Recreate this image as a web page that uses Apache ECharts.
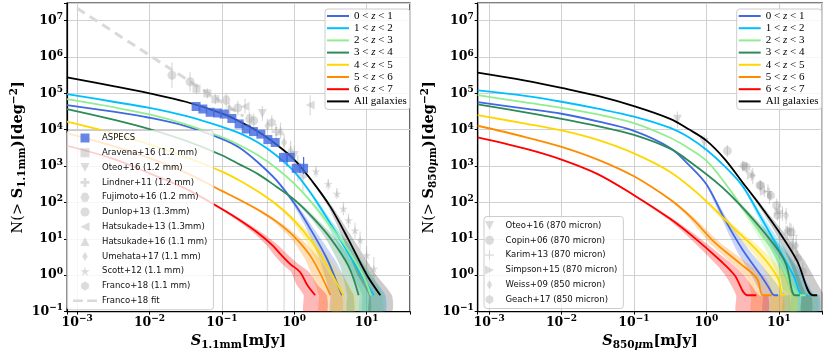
<!DOCTYPE html>
<html>
<head>
<meta charset="utf-8">
<script src="https://cdn.jsdelivr.net/npm/echarts@6.0.0/dist/echarts.min.js"></script>
<style>
html,body{margin:0;padding:0;background:#fff;}
#chart{width:830px;height:356px;}
</style>
</head>
<body>
<div id="chart"></div>
<script>

/* =================================
   data (log10 S [mJy], log10 N [deg^-2])
================================= */

const zNames=["0 < z < 1","1 < z < 2","2 < z < 3","3 < z < 4","4 < z < 5","5 < z < 6","6 < z < 7","All galaxies"];

// left panel, 1.1 mm
const L_z0=[[-3.14,4.68],[-2.5,4.5],[-2,4.33],[-1.5,4.1],[-1,3.75],[-0.75,3.5],[-0.5,3.1],[-0.25,2.62],[0,1.98],[0.2,1.35],[0.45,0.46],[0.64,-0.45],[0.66,-0.55]];
const L_z1=[[-3.14,4.98],[-2.5,4.77],[-2,4.6],[-1.5,4.38],[-1,4.08],[-0.75,3.9],[-0.5,3.65],[-0.25,3.3],[0,2.85],[0.25,2.2],[0.5,1.42],[0.75,0.6],[0.96,-0.1],[1.1,-0.55]];
const L_z2=[[-3.14,4.84],[-2.5,4.62],[-2,4.42],[-1.5,4.15],[-1,3.8],[-0.75,3.57],[-0.5,3.3],[-0.25,2.95],[0,2.52],[0.25,1.98],[0.5,1.35],[0.75,0.68],[0.95,0],[1.06,-0.55]];
const L_z3=[[-3.14,4.57],[-2.5,4.28],[-2,4.02],[-1.5,3.7],[-1,3.3],[-0.75,3.04],[-0.5,2.78],[-0.25,2.44],[0,2.08],[0.25,1.6],[0.5,1.02],[0.75,0.25],[0.89,-0.55]];
const L_z4=[[-3.14,4.22],[-2.5,3.9],[-2,3.6],[-1.5,3.25],[-1,2.85],[-0.75,2.6],[-0.5,2.3],[-0.25,1.95],[0,1.5],[0.25,0.9],[0.45,0.27],[0.68,-0.55]];
const L_z5=[[-3.14,3.91],[-2.5,3.55],[-2,3.22],[-1.5,2.82],[-1,2.32],[-0.75,2.07],[-0.5,1.8],[-0.25,1.48],[0,1.06],[0.25,0.45],[0.5,-0.55]];
const L_z6=[[-3.14,3.56],[-2.5,3.2],[-2,2.8],[-1.5,2.38],[-1,1.82],[-0.75,1.51],[-0.5,1.16],[-0.3,0.82],[-0.19,0.58],[-0.05,0.3],[0.08,0.09],[0.18,-0.27],[0.29,-0.55]];
const L_all=[[-3.14,5.44],[-2.5,5.2],[-2,5.0],[-1.5,4.77],[-1,4.45],[-0.75,4.22],[-0.5,3.95],[-0.25,3.6],[0,3.18],[0.25,2.58],[0.5,1.88],[0.75,0.98],[1.0,0.02],[1.19,-0.55]];

// right panel, 850 micron
const R_z0=[[-3.157,4.76],[-2.5,4.58],[-2,4.44],[-1.5,4.23],[-1,3.97],[-0.5,3.5],[-0.25,3.05],[0,2.5],[0.25,1.55],[0.5,0.7],[0.75,0],[0.85,-0.3],[0.94,-0.55],[0.99,-0.55]];
const R_z1=[[-3.157,5.08],[-2.5,4.93],[-2,4.77],[-1.5,4.58],[-1,4.36],[-0.5,4.05],[-0.25,3.8],[0,3.45],[0.25,3.0],[0.5,2.45],[0.75,1.6],[1.0,0.72],[1.2,0],[1.33,-0.55],[1.4,-0.55]];
const R_z2=[[-3.157,4.95],[-2.5,4.75],[-2,4.6],[-1.5,4.42],[-1,4.18],[-0.5,3.78],[-0.25,3.5],[0,3.15],[0.25,2.55],[0.5,1.85],[0.75,1.15],[1.0,0.42],[1.2,-0.38],[1.3,-0.55],[1.37,-0.55]];
const R_z3=[[-3.157,4.7],[-2.5,4.48],[-2,4.3],[-1.5,4.1],[-1,3.86],[-0.5,3.48],[-0.2,3.08],[0.2,2.45],[0.55,1.75],[0.95,0.8],[1.1,0.3],[1.22,-0.55],[1.29,-0.55]];
const R_z4=[[-3.157,4.4],[-2.5,4.17],[-2,3.98],[-1.5,3.72],[-1,3.35],[-0.5,2.84],[-0.12,2.25],[0.34,1.37],[0.76,0.55],[0.99,-0.09],[1.05,-0.55],[1.09,-0.55]];
const R_z5=[[-3.157,4.11],[-2.5,3.8],[-2,3.53],[-1.5,3.18],[-1,2.72],[-0.5,2.08],[-0.2,1.57],[0.11,0.91],[0.48,0.3],[0.7,-0.1],[0.78,-0.55],[0.9,-0.55]];
const R_z6=[[-3.157,3.79],[-2.5,3.48],[-2,3.18],[-1.5,2.78],[-1,2.2],[-0.5,1.55],[-0.16,1.02],[0.21,0.37],[0.39,0],[0.57,-0.55],[0.69,-0.55]];
const R_all=[[-3.157,5.57],[-2.5,5.35],[-2,5.15],[-1.5,4.93],[-1,4.65],[-0.5,4.3],[-0.25,4.02],[0,3.7],[0.25,3.2],[0.5,2.55],[0.75,1.9],[1.0,1.2],[1.25,0.4],[1.47,-0.55],[1.53,-0.55]];

// band half width (dex in S) against log N
const bandLevel=[2.5,1.5,1.0,0.5,0.0,-0.55];
const bandHalf=[0.01,0.04,0.07,0.1,0.13,0.16];

// observations [logS, logN, lowEnd, highEnd]
const aspecs=[[-1.356,4.64],[-1.263,4.57],[-1.162,4.48],[-1.061,4.46],[-0.968,4.43],[-0.862,4.31],[-0.761,4.16],[-0.664,4.02],[-0.563,3.95],[-0.461,3.88],[-0.364,3.73],[-0.263,3.65],[-0.148,3.24],[-0.055,3.24],[0.028,2.94],[0.129,2.94]];
const aspecsErr=[[-0.1,3.0,3.38],[0.13,2.78,3.25]];
const francoFit=[[-3.0,7.34],[-0.7,4.37]];

const aravena16=[[-1.35,5.13,4.98,5.28],[-1.2,5.0,4.86,5.14],[-1.09,4.84,4.7,4.98]];
const oteo16mm=[[-0.44,4.45,4.25,4.65],[0.0,3.29,3.0,3.55]];
const lindner11=[[-0.9,4.55,4.35,4.75],[-0.25,3.95,3.7,4.15]];
const fujimoto16=[[-0.94,4.82,4.62,5.0],[-0.62,4.3,4.05,4.5]];
const dunlop13=[[-1.69,5.5,5.15,5.85],[-1.44,5.32,5.05,5.58],[-0.78,4.6,4.4,4.8],[-0.56,4.25,4.05,4.45]];
const hatsukade13=[[-0.68,4.64,4.45,4.85],[0.22,4.68,4.4,4.95]];
const hatsukade16=[[-0.19,3.97,3.75,4.2],[-0.05,3.45,3.15,3.7]];
const umehata17=[[-0.37,4.11,-1.5,4.3],[-0.14,3.65,-1.5,3.85]];
const scott12=[[0.30,2.85,2.7,3.0],[0.47,2.51,2.35,2.65],[0.59,2.24,2.1,2.4],[0.68,1.83,1.65,2.0],[0.75,1.51,1.3,1.7],[0.84,1.23,1.0,1.45],[0.91,0.96,0.7,1.2],[1.0,0.55,0.2,0.8],[1.10,0.18,-0.3,0.5]];
const franco18=[[-0.31,4.2,4.0,4.4],[0.05,3.0,2.6,3.3],[0.12,2.75,2.3,3.05]];

const oteo16um=[[-0.40,4.29,4.05,4.5],[-0.03,3.65,3.4,3.85]];
const copin06=[[0.29,3.42,3.25,3.58],[0.55,2.97,2.8,3.12],[0.74,2.47,2.3,2.62],[0.97,1.92,1.72,2.1],[1.17,1.19,0.9,1.42]];
const karim13=[[0.5,3.0,2.85,3.15],[0.85,2.3,2.1,2.5],[1.05,1.7,1.5,1.9],[1.2,1.1,0.8,1.35]];
const simpson15=[[0.62,2.75,2.6,2.9],[0.8,2.3,2.15,2.45],[1.0,1.75,1.55,1.95],[1.15,1.25,1.0,1.45]];
const weiss09=[[0.64,2.74,2.5,2.95],[0.87,2.19,1.95,2.4],[1.1,1.64,1.4,1.85],[1.24,0.82,0.5,1.1]];
const geach17=[[0.52,3.01,2.9,3.12],[0.75,2.47,2.35,2.6],[0.89,2.19,2.05,2.32],[0.98,1.64,1.5,1.8],[1.12,1.19,1.0,1.36],[1.19,0.82,0.6,1.0],[1.26,0.46,0.2,0.7],[1.33,0.1,-0.2,0.35]];


/* =================================
   styles
================================= */

const zColors=["#4169E1","#00BFFF","#90EE90","#2E8B57","#FFD700","#FF8C00","#FF0000","#000000"];
const Y_MIN=-1, Y_MAX=7.485;
const GRAY="rgba(150,150,150,0.42)";
const GRAY_ERR="rgba(150,150,150,0.35)";

const SYM={
square:"path://M0,0L10,0L10,10L0,10Z",
tridown:"path://M0,0L10,0L5,10Z",
trileft:"path://M0,5L10,0L10,10Z",
triright:"path://M0,0L10,5L0,10Z",
triup:"path://M5,0L10,10L0,10Z",
plus:"path://M3.5,0L6.5,0L6.5,3.5L10,3.5L10,6.5L6.5,6.5L6.5,10L3.5,10L3.5,6.5L0,6.5L0,3.5L3.5,3.5Z",
thinplus:"path://M4.4,0L5.6,0L5.6,4.4L10,4.4L10,5.6L5.6,5.6L5.6,10L4.4,10L4.4,5.6L0,5.6L0,4.4L4.4,4.4Z",
star:"path://M5,0L6.18,3.62L10,3.62L6.91,5.86L8.09,9.5L5,7.26L1.91,9.5L3.09,5.86L0,3.62L3.82,3.62Z",
hex:"path://M5,0L9.33,2.5L9.33,7.5L5,10L0.67,7.5L0.67,2.5Z",
hexflat:"path://M2.5,0L7.5,0L10,5L7.5,10L2.5,10L0,5Z",
thindiamond:"path://M5,0L8,5L5,10L2,5Z",
dash:"path://M0,0L9,0L9,2.4L0,2.4Z M13,0L22,0L22,2.4L13,2.4Z"
};

const tickRich={
b:{fontFamily:"DejaVu Serif",fontWeight:"bold",fontSize:12.5,color:"#000"},
s:{fontFamily:"DejaVu Serif",fontWeight:"bold",fontSize:9,color:"#000",padding:[0,0,7,0]}
};

const nameRich={
r:{fontFamily:"DejaVu Serif",fontSize:14.5,color:"#000"},
b:{fontFamily:"DejaVu Serif",fontSize:14.5,fontWeight:"bold",color:"#000"},
bi:{fontFamily:"DejaVu Serif",fontSize:14.5,fontWeight:"bold",fontStyle:"italic",color:"#000"},
sub:{fontFamily:"DejaVu Serif",fontSize:10.5,fontWeight:"bold",color:"#000",padding:[8,0,0,0]},
subi:{fontFamily:"DejaVu Serif",fontSize:10.5,fontStyle:"italic",fontWeight:"bold",color:"#000",padding:[8,0,0,0]},
sup:{fontFamily:"DejaVu Serif",fontSize:10.5,fontWeight:"bold",color:"#000",padding:[0,0,8,0]}
};


/* =================================
   helpers
================================= */

function tickLabel(v){
let r=Math.round(v);
if(Math.abs(v-r)>1e-6) return "";
return "{b|10}{s|"+(r<0?"\u2212"+(-r):r)+"}";
}

function halfWidth(y){
if(y>=bandLevel[0]) return bandHalf[0];
for(let i=1;i<bandLevel.length;i++){
if(y>=bandLevel[i]){
let t=(bandLevel[i-1]-y)/(bandLevel[i-1]-bandLevel[i]);
return bandHalf[i-1]+t*(bandHalf[i]-bandHalf[i-1]);
}
}
return bandHalf[bandHalf.length-1];
}

function bandPolygon(pts){
let end=pts.findIndex(p=>p[1]<=-0.549);
if(end<0) end=pts.length-1;
let upper=pts.map(p=>[p[0]+halfWidth(p[1]),p[1]]);
let lower=pts.slice(0,end+1).map(p=>[p[0]-halfWidth(p[1]),p[1]]).reverse();
return upper
.concat([[upper[upper.length-1][0],Y_MIN],[lower[0][0],Y_MIN]])
.concat(lower);
}

function bandSeries(pts,color,ax){
let poly=bandPolygon(pts);
return {
type:"custom",
xAxisIndex:ax,yAxisIndex:ax,
clip:true,silent:true,z:1,
data:[[pts[0][0],pts[0][1]]],
renderItem:(params,api)=>({
type:"polygon",
shape:{points:poly.map(p=>api.coord(p)),smooth:0.2},
style:{fill:color,opacity:color=="#000000"?0.2:0.28}
})
};
}

function lineSeries(name,pts,color,ax){
return {
type:"line",name:name,
xAxisIndex:ax,yAxisIndex:ax,
data:pts,
symbol:"none",showSymbol:false,
smooth:0.35,
lineStyle:{color:color,width:1.8},
itemStyle:{color:color},
z:3,silent:true,animation:false
};
}

function errSeries(sets,color,ax,z){
let data=[];
sets.forEach(s=>s.forEach(p=>data.push([p[0],p.length>3?p[2]:p[1],p.length>3?p[3]:p[2]])));
return {
type:"custom",
xAxisIndex:ax,yAxisIndex:ax,
clip:true,silent:true,z:z,
encode:{x:0,y:[1,2]},
data:data,
renderItem:(params,api)=>{
let a=api.coord([api.value(0),Math.max(api.value(1),Y_MIN)]);
let b=api.coord([api.value(0),api.value(2)]);
return {type:"line",shape:{x1:a[0],y1:a[1],x2:b[0],y2:b[1]},style:{stroke:color,lineWidth:1.2}};
}
};
}

function pointSeries(name,pts,symbol,size,ax,color){
return {
type:"scatter",name:name,
xAxisIndex:ax,yAxisIndex:ax,
data:pts.map(p=>[p[0],p[1]]),
symbol:symbol,symbolSize:size,symbolKeepAspect:true,
itemStyle:{color:color||GRAY},
z:2,silent:true
};
}

function xAxis(idx,min,name){
return {
type:"value",gridIndex:idx,min:min,max:1.6,
minInterval:1,maxInterval:1,
axisLine:{show:true,onZero:false,lineStyle:{color:"#000",width:1.2}},
axisTick:{show:true,length:3,lineStyle:{color:"#000"}},
axisLabel:{margin:3,formatter:tickLabel,rich:tickRich},
splitLine:{show:true,lineStyle:{color:"#d0d0d0",width:1}},
name:name,nameLocation:"middle",nameGap:18,
nameTextStyle:{rich:nameRich}
};
}

function yAxis(idx,name){
return {
type:"value",gridIndex:idx,min:Y_MIN,max:Y_MAX,
minInterval:1,maxInterval:1,
axisLine:{show:true,onZero:false,lineStyle:{color:"#000",width:1.2}},
axisTick:{show:true,length:3,lineStyle:{color:"#000"}},
axisLabel:{margin:4,formatter:tickLabel,rich:tickRich},
splitLine:{show:true,lineStyle:{color:"#d0d0d0",width:1}},
name:name,nameLocation:"middle",nameGap:34,nameRotate:90,
nameTextStyle:{rich:nameRich}
};
}

function zLegend(left){
return {
orient:"vertical",left:left,top:9,
data:zNames,
icon:"rect",itemWidth:22,itemHeight:2,itemGap:0.2,
padding:[1,3,2,2],
backgroundColor:"rgba(255,255,255,0.8)",
borderColor:"#cccccc",borderWidth:1,borderRadius:3,
selectedMode:false,
formatter:n=>n.replace(" z "," {i|z} "),
textStyle:{fontFamily:"Liberation Serif",fontSize:11,lineHeight:12,color:"#000",
rich:{i:{fontFamily:"Liberation Serif",fontSize:11,fontStyle:"italic",color:"#000"}}}
};
}

function obsLegend(left,top,items,pad,w){
return {
orient:"vertical",left:left,top:top,
data:items,
itemWidth:w,itemHeight:9,itemGap:2.8,
padding:pad,
backgroundColor:"rgba(255,255,255,0.8)",
borderColor:"#cccccc",borderWidth:1,borderRadius:3,
selectedMode:false,
textStyle:{fontFamily:"DejaVu Sans",fontSize:8.5,lineHeight:12,color:"#111"}
};
}


/* =================================
   build chart
================================= */

const leftCurves=[L_z0,L_z1,L_z2,L_z3,L_z4,L_z5,L_z6,L_all];
const rightCurves=[R_z0,R_z1,R_z2,R_z3,R_z4,R_z5,R_z6,R_all];

let series=[];

leftCurves.forEach((c,i)=>series.push(bandSeries(c,zColors[i],0)));
rightCurves.forEach((c,i)=>series.push(bandSeries(c,zColors[i],1)));

series.push(errSeries([aravena16,oteo16mm,lindner11,fujimoto16,dunlop13,hatsukade13,hatsukade16,umehata17,scott12,franco18],GRAY_ERR,0,2));
series.push(errSeries([oteo16um,copin06,karim13,simpson15,weiss09,geach17],GRAY_ERR,1,2));

series.push(pointSeries("Aravena+16 (1.2 mm)",aravena16,SYM.square,8,0));
series.push(pointSeries("Oteo+16 (1.2 mm)",oteo16mm,SYM.tridown,9,0));
series.push(pointSeries("Lindner+11 (1.2 mm)",lindner11,SYM.plus,9,0));
series.push(pointSeries("Fujimoto+16 (1.2 mm)",fujimoto16,SYM.hexflat,9,0));
series.push(pointSeries("Dunlop+13 (1.3mm)",dunlop13,"circle",9,0));
series.push(pointSeries("Hatsukade+13 (1.3mm)",hatsukade13,SYM.trileft,9,0));
series.push(pointSeries("Hatsukade+16 (1.1 mm)",hatsukade16,SYM.triup,9,0));
series.push(pointSeries("Umehata+17 (1.1 mm)",umehata17,SYM.thindiamond,10,0));
series.push(pointSeries("Scott+12 (1.1 mm)",scott12,SYM.star,9,0));
series.push(pointSeries("Franco+18 (1.1 mm)",franco18,SYM.hex,9,0));

series.push({
type:"line",name:"Franco+18 fit",
xAxisIndex:0,yAxisIndex:0,
data:francoFit,symbol:"none",
lineStyle:{color:"#d9d9d9",width:3,type:[9,6]},
itemStyle:{color:"#d9d9d9"},
z:2,silent:true
});

series.push(pointSeries("Oteo+16 (870 micron)",oteo16um,SYM.tridown,9,1));
series.push(pointSeries("Copin+06 (870 micron)",copin06,"circle",9,1));
series.push(pointSeries("Karim+13 (870 micron)",karim13,SYM.thinplus,9,1));
series.push(pointSeries("Simpson+15 (870 micron)",simpson15,SYM.triright,9,1));
series.push(pointSeries("Weiss+09 (850 micron)",weiss09,SYM.thindiamond,10,1));
series.push(pointSeries("Geach+17 (850 micron)",geach17,SYM.hex,9,1));

leftCurves.forEach((c,i)=>series.push(lineSeries(zNames[i],c,zColors[i],0)));
rightCurves.forEach((c,i)=>series.push(lineSeries(zNames[i],c,zColors[i],1)));

series.push(errSeries([aspecsErr],"#4169E1",0,3));
let asp=pointSeries("ASPECS",aspecs,SYM.square,9,0,"#4169E1");
asp.z=3;
series.push(asp);


let chart=echarts.init(document.getElementById("chart"),null,{renderer:"canvas"});

chart.setOption({
animation:false,
backgroundColor:"#fff",
grid:[
{left:67,top:3,width:343,height:309.7,show:true,borderColor:"#000",borderWidth:1.2},
{left:477.7,top:3,width:344.6,height:309.7,show:true,borderColor:"#000",borderWidth:1.2}
],
xAxis:[
xAxis(0,-3.14,"{bi|S}{sub|1.1mm}{b|[mJy]}"),
xAxis(1,-3.157,"{bi|S}{sub|850}{subi|\u03bc}{sub|m}{b|[mJy]}")
],
yAxis:[
yAxis(0,"{r|N(> }{b|S}{sub|1.1mm}{b|)[deg}{sup|\u22122}{b|]}"),
yAxis(1,"{r|N(> }{b|S}{sub|850}{subi|\u03bc}{sub|m}{b|)[deg}{sup|\u22122}{b|]}")
],
legend:[
zLegend(325),
zLegend(736.7),
obsLegend(67,130.5,["ASPECS","Aravena+16 (1.2 mm)","Oteo+16 (1.2 mm)","Lindner+11 (1.2 mm)","Fujimoto+16 (1.2 mm)","Dunlop+13 (1.3mm)","Hatsukade+13 (1.3mm)","Hatsukade+16 (1.1 mm)","Umehata+17 (1.1 mm)","Scott+12 (1.1 mm)","Franco+18 (1.1 mm)",{name:"Franco+18 fit",icon:SYM.dash}],[1.5,6,3,6],24),
obsLegend(484,216.5,["Oteo+16 (870 micron)","Copin+06 (870 micron)","Karim+13 (870 micron)","Simpson+15 (870 micron)","Weiss+09 (850 micron)","Geach+17 (850 micron)"],[3,6,3,1],22)
],
series:series
});

</script>
</body>
</html>
